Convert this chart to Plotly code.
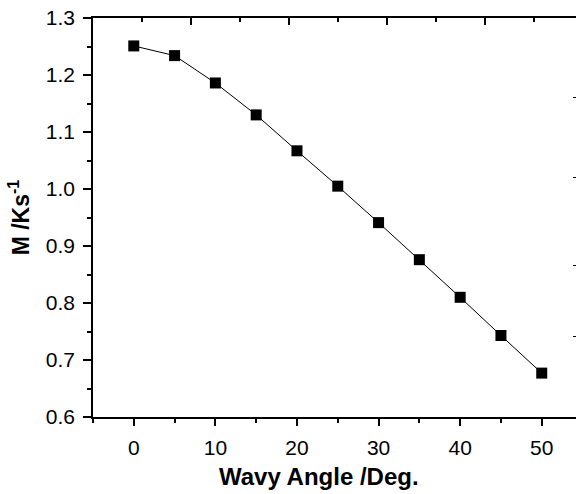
import plotly.graph_objects as go

angle = [0, 5, 10, 15, 20, 25, 30, 35, 40, 45, 50]
m_val = [1.251, 1.234, 1.186, 1.130, 1.067, 1.005, 0.941, 0.876, 0.810, 0.743, 0.677]

x_range = [-5, 54.2]
y_range = [0.6, 1.3]
top_major = [-5, 7, 19, 31, 43]
top_minor = [1, 13, 25, 37, 49]
right_ticks = [1.161, 1.021, 0.866, 0.741]

x_title = "<b>Wavy Angle /Deg.</b>"
y_title = "<b>M /Ks<sup>-1</sup></b>"

font_family = "Liberation Sans, Arial, sans-serif"

fig = go.Figure()
fig.add_trace(go.Scatter(
    x=angle, y=m_val, mode="lines+markers",
    line=dict(color="black", width=1),
    marker=dict(symbol="square", size=11, color="black"),
    showlegend=False,
))
# invisible traces to activate secondary axes
fig.add_trace(go.Scatter(x=[None], y=[None], xaxis="x2", yaxis="y", showlegend=False, hoverinfo="skip"))
fig.add_trace(go.Scatter(x=[None], y=[None], xaxis="x", yaxis="y2", showlegend=False, hoverinfo="skip"))

fig.update_layout(
    width=576, height=494,
    margin=dict(l=93, r=0, t=18, b=77),
    paper_bgcolor="white", plot_bgcolor="white",
    font=dict(family=font_family, size=21, color="black"),
    xaxis=dict(
        range=x_range, tick0=0, dtick=10, ticks="outside", ticklen=7, tickwidth=1.5,
        tickcolor="black", showline=True, linecolor="black", linewidth=1.5,
        showgrid=False, zeroline=False, ticklabelstandoff=4,
        minor=dict(dtick=5, tick0=0, ticks="outside", ticklen=4, tickwidth=1.5, tickcolor="black", showgrid=False),
        tickfont=dict(size=21),
    ),
    xaxis2=dict(
        overlaying="x", side="top", range=x_range, tickmode="array", tickvals=top_major,
        ticks="inside", ticklen=7, tickwidth=1.5, tickcolor="black",
        showticklabels=False, showline=True, linecolor="black", linewidth=1.5,
        showgrid=False, zeroline=False,
        minor=dict(tickvals=top_minor, ticks="inside", ticklen=4, tickwidth=1.5, tickcolor="black", showgrid=False),
    ),
    yaxis=dict(
        range=y_range, tick0=0.6, dtick=0.1, tickformat=".1f", ticks="outside", ticklen=8,
        tickwidth=1.5, tickcolor="black", showline=True, linecolor="black", linewidth=1.5,
        showgrid=False, zeroline=False, ticklabelstandoff=4,
        minor=dict(dtick=0.05, tick0=0.6, ticks="outside", ticklen=4, tickwidth=1.5, tickcolor="black", showgrid=False),
        tickfont=dict(size=21),
        title=dict(text=y_title, font=dict(size=23), standoff=10),
    ),
    yaxis2=dict(
        overlaying="y", side="right", range=y_range, tickmode="array", tickvals=right_ticks,
        ticks="inside", ticklen=3, tickwidth=1, tickcolor="black",
        showticklabels=False, showline=False, showgrid=False, zeroline=False,
    ),
    annotations=[dict(
        text=x_title, xref="paper", yref="paper", x=0.468, y=-0.148,
        xanchor="center", yanchor="middle", showarrow=False,
        font=dict(size=24, family=font_family, color="black"),
    )],
)

fig.write_html("out.html")
